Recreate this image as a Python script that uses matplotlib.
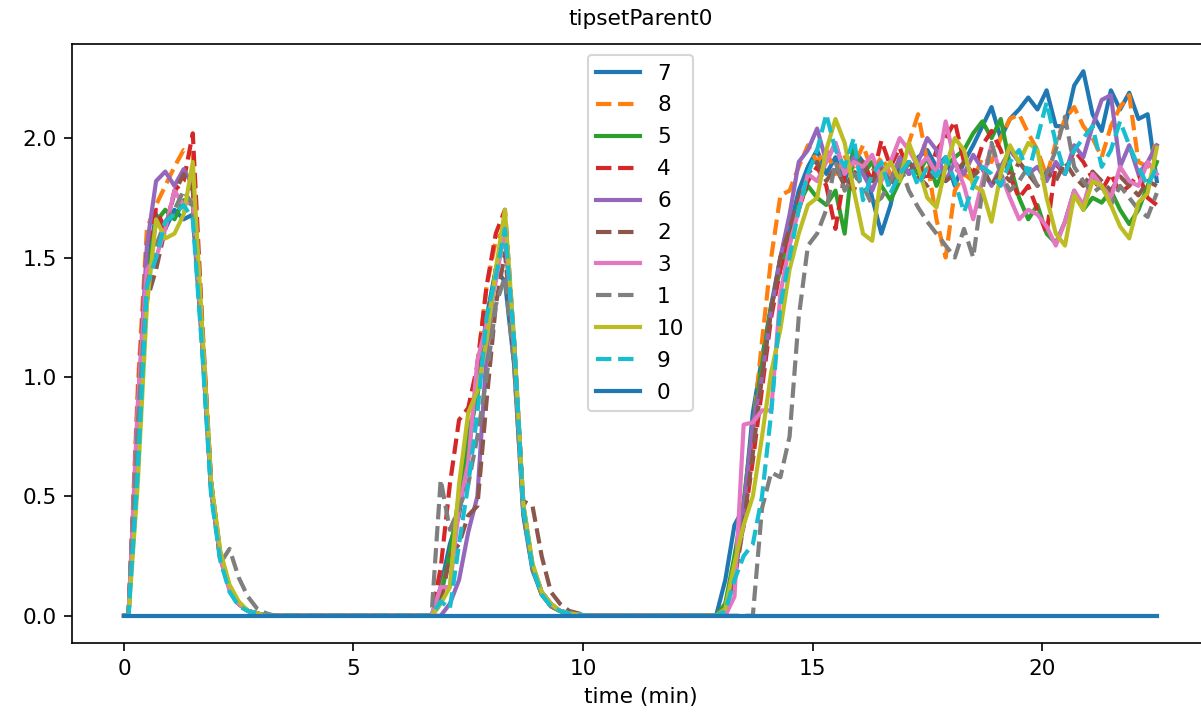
import numpy as np
import matplotlib.pyplot as plt

# sample times (min): 0, then every 0.2 min from 0.1 to 22.5
time = np.concatenate([[0.0], np.round(np.arange(0.1, 22.55, 0.2), 1)])

labels = ['7', '8', '5', '4', '6', '2', '3', '1', '10', '9', '0']
styles = ['-', '--', '-', '--', '-', '--', '-', '--', '-', '--', '-']

# first burst, t = 0.0, 0.1, 0.3 ... 3.1
n7_a = [0, 0, 0.85, 1.45, 1.68, 1.62, 1.70, 1.66, 1.68, 1.15, 0.52, 0.24, 0.11, 0.05, 0.02, 0.01, 0.0]
n8_a = [0, 0, 0.95, 1.62, 1.72, 1.80, 1.88, 1.95, 1.93, 1.20, 0.55, 0.25, 0.12, 0.05, 0.02, 0.01, 0.0]
n5_a = [0, 0, 0.82, 1.42, 1.65, 1.70, 1.66, 1.74, 1.72, 1.15, 0.53, 0.25, 0.12, 0.05, 0.02, 0.01, 0.0]
n4_a = [0, 0, 0.90, 1.55, 1.70, 1.62, 1.78, 1.82, 2.02, 1.25, 0.56, 0.26, 0.12, 0.05, 0.02, 0.01, 0.0]
n6_a = [0, 0, 0.85, 1.55, 1.82, 1.86, 1.80, 1.87, 1.80, 1.18, 0.54, 0.25, 0.12, 0.05, 0.02, 0.01, 0.0]
n2_a = [0, 0, 0.80, 1.32, 1.45, 1.62, 1.77, 1.85, 1.78, 1.20, 0.55, 0.26, 0.12, 0.05, 0.02, 0.01, 0.0]
n3_a = [0, 0, 0.88, 1.45, 1.50, 1.62, 1.78, 1.72, 1.74, 1.15, 0.53, 0.24, 0.11, 0.05, 0.02, 0.01, 0.0]
n1_a = [0, 0, 0.80, 1.38, 1.55, 1.65, 1.70, 1.78, 1.72, 1.18, 0.55, 0.22, 0.28, 0.16, 0.08, 0.03, 0.01]
n10_a = [0, 0, 0.55, 1.30, 1.66, 1.58, 1.60, 1.68, 1.90, 1.22, 0.56, 0.27, 0.13, 0.06, 0.02, 0.01, 0.0]
n9_a = [0, 0, 0.60, 1.38, 1.50, 1.65, 1.68, 1.72, 1.66, 1.12, 0.50, 0.23, 0.10, 0.04, 0.02, 0.01, 0.0]

# second burst, t = 6.9 ... 10.1
n7_b = [0.12, 0.30, 0.42, 0.68, 0.98, 1.25, 1.45, 1.40, 1.05, 0.42, 0.19, 0.09, 0.04, 0.02, 0.01, 0.005, 0.0]
n8_b = [0.10, 0.25, 0.45, 0.72, 1.05, 1.38, 1.57, 1.62, 1.10, 0.44, 0.20, 0.09, 0.04, 0.02, 0.01, 0.005, 0.0]
n5_b = [0.08, 0.26, 0.50, 0.75, 0.92, 1.20, 1.45, 1.60, 1.12, 0.45, 0.20, 0.09, 0.04, 0.02, 0.01, 0.005, 0.0]
n4_b = [0.20, 0.55, 0.82, 0.87, 1.05, 1.38, 1.60, 1.70, 1.15, 0.46, 0.21, 0.10, 0.05, 0.02, 0.01, 0.005, 0.0]
n6_b = [0.00, 0.05, 0.15, 0.35, 0.50, 1.10, 1.45, 1.62, 1.15, 0.46, 0.21, 0.10, 0.05, 0.02, 0.01, 0.005, 0.0]
n2_b = [0.05, 0.25, 0.30, 0.42, 0.46, 0.90, 1.30, 1.52, 1.10, 0.48, 0.46, 0.25, 0.10, 0.05, 0.02, 0.01, 0.0]
n3_b = [0.12, 0.12, 0.45, 0.64, 1.07, 1.22, 1.40, 1.62, 1.12, 0.45, 0.21, 0.10, 0.04, 0.02, 0.01, 0.005, 0.0]
n1_b = [0.57, 0.36, 0.45, 0.55, 0.75, 1.00, 1.30, 1.42, 1.05, 0.43, 0.20, 0.09, 0.04, 0.02, 0.01, 0.005, 0.0]
n10_b = [0.05, 0.12, 0.55, 0.85, 0.94, 1.15, 1.45, 1.70, 1.15, 0.47, 0.22, 0.10, 0.05, 0.02, 0.01, 0.005, 0.0]
n9_b = [0.06, 0.03, 0.30, 0.55, 0.85, 1.25, 1.42, 1.62, 1.15, 0.45, 0.20, 0.09, 0.04, 0.02, 0.01, 0.005, 0.0]

# ramp and plateau, t = 13.1 ... 22.5
n7_c = [0.15, 0.38, 0.45, 0.85, 1.08, 1.30, 1.50, 1.62, 1.78, 1.88, 1.95, 1.85,
        1.92, 1.82, 1.95, 1.90, 1.75, 1.60, 1.72, 1.90, 1.85, 1.92, 1.95, 1.88,
        1.92, 1.80, 1.90, 1.97, 2.05, 2.13, 2.00, 2.08, 2.12, 2.17, 2.12, 2.20,
        2.05, 2.05, 2.22, 2.28, 2.10, 2.03, 2.20, 2.12, 2.19, 2.08, 2.10, 1.82]
n8_c = [0.05, 0.20, 0.40, 0.78, 1.15, 1.50, 1.76, 1.78, 1.88, 1.97, 1.90, 1.95,
        1.85, 1.92, 1.88, 1.97, 1.86, 1.92, 1.85, 1.90, 1.98, 2.10, 1.90, 1.66,
        1.50, 1.78, 1.85, 1.82, 1.92, 1.90, 2.00, 2.08, 2.10, 2.02, 1.95, 1.84,
        1.98, 2.08, 2.13, 2.05, 2.00, 1.92, 2.05, 2.13, 2.18, 1.90, 1.88, 1.99]
n5_c = [0.05, 0.25, 0.48, 0.80, 1.05, 1.30, 1.45, 1.58, 1.72, 1.80, 1.75, 1.72,
        1.78, 1.60, 1.96, 1.85, 1.90, 1.80, 1.74, 1.82, 1.90, 1.85, 1.92, 1.80,
        1.88, 1.92, 1.95, 2.02, 2.07, 2.00, 2.08, 1.89, 1.75, 1.66, 1.72, 1.60,
        1.56, 1.65, 1.78, 1.70, 1.75, 1.73, 1.78, 1.70, 1.64, 1.70, 1.80, 1.90]
n4_c = [0.03, 0.18, 0.38, 0.65, 0.95, 1.25, 1.45, 1.58, 1.70, 1.82, 1.88, 1.80,
        1.62, 1.85, 1.78, 1.90, 1.82, 1.99, 1.88, 1.96, 1.85, 1.90, 1.82, 1.95,
        2.00, 2.07, 1.90, 1.85, 1.97, 2.03, 1.95, 1.84, 1.75, 1.80, 1.70, 1.60,
        1.89, 1.85, 1.95, 1.90, 1.83, 1.78, 1.85, 1.77, 1.80, 1.85, 1.75, 1.72]
n6_c = [0.02, 0.15, 0.45, 0.80, 1.00, 1.28, 1.50, 1.68, 1.90, 1.95, 2.04, 1.90,
        1.98, 1.85, 1.92, 1.85, 1.78, 1.88, 1.82, 1.92, 1.85, 1.90, 2.00, 1.95,
        1.82, 1.90, 1.85, 1.93, 1.87, 1.80, 1.88, 1.95, 1.90, 1.85, 1.88, 1.82,
        1.90, 1.85, 1.97, 1.92, 2.05, 2.16, 2.18, 1.88, 1.97, 1.85, 1.90, 1.97]
n2_c = [0.03, 0.15, 0.38, 0.68, 1.00, 1.28, 1.50, 1.62, 1.75, 1.85, 1.90, 1.82,
        1.88, 1.80, 1.85, 1.90, 1.82, 1.88, 1.80, 1.86, 1.90, 1.84, 1.80, 1.88,
        1.82, 1.85, 1.90, 1.84, 1.88, 1.80, 1.86, 1.82, 1.90, 1.85, 1.80, 1.86,
        1.82, 1.90, 1.84, 1.80, 1.86, 1.82, 1.78, 1.84, 1.80, 1.76, 1.82, 1.80]
n3_c = [0.00, 0.08, 0.80, 0.81, 0.86, 0.86, 1.35, 1.55, 1.70, 1.85, 1.82, 1.90,
        1.98, 1.85, 1.90, 1.88, 1.93, 1.82, 1.90, 2.00, 1.95, 1.88, 1.92, 1.85,
        2.07, 1.90, 1.80, 1.66, 1.82, 1.97, 1.85, 1.75, 1.66, 1.70, 1.68, 1.63,
        1.55, 1.65, 1.78, 1.72, 1.85, 1.80, 1.75, 1.88, 1.82, 1.80, 1.90, 1.85]
n1_c = [0.00, 0.00, 0.00, 0.00, 0.45, 0.60, 0.58, 0.75, 1.25, 1.55, 1.60, 1.70,
        1.90, 1.78, 1.85, 1.80, 1.72, 1.75, 1.82, 1.89, 1.78, 1.71, 1.65, 1.60,
        1.55, 1.50, 1.62, 1.50, 1.78, 1.98, 1.85, 1.78, 1.82, 1.88, 1.80, 1.85,
        1.95, 2.09, 1.88, 1.82, 1.77, 1.80, 1.72, 1.80, 1.75, 1.70, 1.67, 1.77]
n10_c = [0.03, 0.22, 0.38, 0.50, 0.75, 1.02, 1.20, 1.45, 1.60, 1.72, 1.75, 1.95,
         2.08, 1.98, 1.78, 1.60, 1.57, 1.85, 1.90, 1.82, 1.98, 1.88, 1.75, 1.71,
         1.88, 2.00, 1.95, 1.80, 1.78, 1.65, 1.85, 1.97, 1.90, 1.98, 1.95, 1.75,
         1.60, 1.55, 1.76, 1.70, 1.82, 1.80, 1.72, 1.63, 1.58, 1.73, 1.77, 1.96]
n9_c = [0.02, 0.15, 0.25, 0.30, 0.50, 0.85, 1.30, 1.50, 1.70, 1.85, 1.95, 2.10,
        1.95, 1.88, 2.00, 1.74, 1.85, 1.90, 1.77, 1.85, 1.90, 1.80, 1.88, 1.84,
        1.92, 1.82, 1.69, 1.80, 1.88, 1.85, 1.80, 1.90, 1.95, 1.85, 2.00, 2.15,
        1.98, 1.85, 1.95, 2.00, 2.05, 1.88, 1.95, 2.07, 1.97, 1.88, 1.80, 1.88]

quiet_1 = [0.0] * 18   # t = 3.3 ... 6.7
quiet_2 = [0.0] * 14   # t = 10.3 ... 12.9


def join(a, b, c):
    return np.array(a + quiet_1 + b + quiet_2 + c, dtype=float)


series = [
    join(n7_a, n7_b, n7_c),
    join(n8_a, n8_b, n8_c),
    join(n5_a, n5_b, n5_c),
    join(n4_a, n4_b, n4_c),
    join(n6_a, n6_b, n6_c),
    join(n2_a, n2_b, n2_c),
    join(n3_a, n3_b, n3_c),
    join(n1_a, n1_b, n1_c),
    join(n10_a, n10_b, n10_c),
    join(n9_a, n9_b, n9_c),
    np.zeros(len(time)),
]

plt.rcParams['font.size'] = 10.4
plt.rcParams['xtick.major.size'] = 4
plt.rcParams['ytick.major.size'] = 4

fig = plt.figure(figsize=(1201 / 150, 718 / 150), dpi=150)
# right spine falls just past the image edge, as in the original crop
ax = fig.add_axes([0.0602, 0.1045, 0.946, 0.8342])

for i, (lab, ls, vals) in enumerate(zip(labels, styles, series)):
    ax.plot(time, vals, ls, color='C%d' % (i % 10), lw=2, label=lab)

ax.set_title('tipsetParent0', fontsize=10.4, pad=9)
ax.set_xlabel('time (min)')
ax.legend(loc='upper center', labelspacing=0.55)

fig.savefig('out.png', dpi=150)
